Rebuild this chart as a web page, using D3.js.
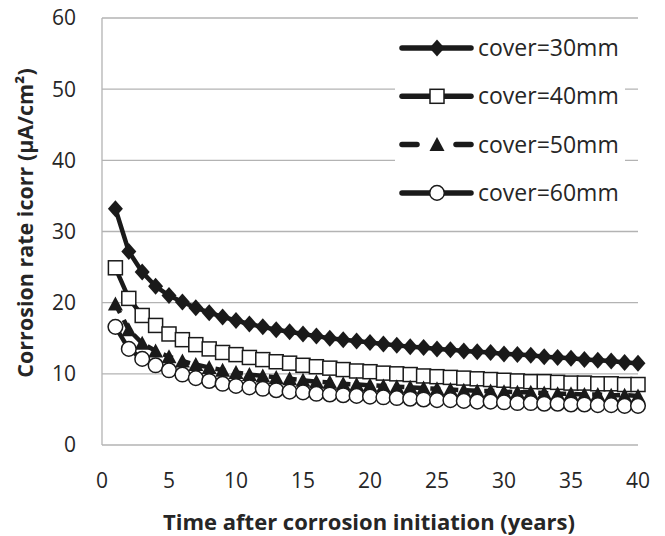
<!DOCTYPE html>
<html>
<head>
<meta charset="utf-8">
<script src="https://cdn.jsdelivr.net/npm/d3@7"></script>
<style>
  body { margin: 0; background: #fff; }
  text { font-family: "Open Sans", sans-serif; fill: #262626; }
</style>
</head>
<body>
<svg width="665" height="536"></svg>
<script>
var width = 665;
var height = 536;
var margin = {left: 102, right: 27, top: 18, bottom: 91};

// data (years 1..40)
var years = d3.range(1, 41);
var cover30 = [33.2,27.2,24.3,22.3,21.0,20.1,19.3,18.6,18.0,17.5,17.0,16.6,16.2,15.9,15.6,15.3,15.0,14.8,14.6,14.4,
               14.2,14.0,13.8,13.7,13.5,13.4,13.2,13.1,13.0,12.8,12.7,12.6,12.4,12.3,12.2,12.0,11.9,11.8,11.6,11.5];
var cover40 = [24.9,20.6,18.2,16.8,15.6,14.8,14.1,13.5,13.0,12.7,12.3,12.0,11.7,11.5,11.2,11.0,10.8,10.6,10.4,10.3,
               10.1,10.0,9.9,9.7,9.6,9.5,9.4,9.3,9.2,9.1,9.0,8.9,8.9,8.8,8.7,8.7,8.6,8.6,8.5,8.5];
var cover50 = [19.8,16.2,14.3,13.2,12.4,11.8,11.3,10.9,10.5,10.2,9.9,9.7,9.5,9.3,9.1,8.9,8.8,8.6,8.5,8.4,
               8.3,8.2,8.1,8.0,7.9,7.8,7.7,7.6,7.6,7.5,7.4,7.4,7.3,7.2,7.2,7.1,7.1,7.0,7.0,6.9];
var cover60 = [16.6,13.5,12.1,11.2,10.5,9.9,9.4,9.0,8.6,8.3,8.1,7.9,7.7,7.5,7.4,7.2,7.1,7.0,6.9,6.8,
               6.7,6.6,6.5,6.4,6.3,6.3,6.2,6.1,6.1,6.0,5.9,5.9,5.8,5.8,5.7,5.7,5.6,5.6,5.5,5.5];
var xTicks = [0,5,10,15,20,25,30,35,40];
var yTicks = [0,10,20,30,40,50,60];
var seriesNames = ["cover=30mm","cover=40mm","cover=50mm","cover=60mm"];

var series = [
  {name: seriesNames[0], values: cover30, marker: "diamond", dash: null},
  {name: seriesNames[1], values: cover40, marker: "square", dash: null},
  {name: seriesNames[2], values: cover50, marker: "triangle", dash: "10,8"},
  {name: seriesNames[3], values: cover60, marker: "circle", dash: null}
];

var x = d3.scaleLinear().domain([0, 40]).range([margin.left, width - margin.right]);
var y = d3.scaleLinear().domain([0, 60]).range([height - margin.bottom, margin.top]);

var svg = d3.select("svg");

// gridlines
svg.append("g")
  .selectAll("line")
  .data(yTicks)
  .enter()
  .append("line")
  .attr("x1", x(0))
  .attr("x2", x(40))
  .attr("y1", function(d) { return y(d); })
  .attr("y2", function(d) { return y(d); })
  .attr("stroke", "#b3b3b3")
  .attr("stroke-width", 1.3);

// left axis line
svg.append("line")
  .attr("x1", x(0)).attr("x2", x(0))
  .attr("y1", y(0)).attr("y2", y(60))
  .attr("stroke", "#b3b3b3")
  .attr("stroke-width", 1.3);

// tick labels
svg.append("g")
  .selectAll("text")
  .data(yTicks)
  .enter()
  .append("text")
  .attr("x", x(0) - 26)
  .attr("y", function(d) { return y(d); })
  .attr("dy", "0.35em")
  .attr("text-anchor", "end")
  .style("font-size", "21px")
  .text(function(d) { return d; });

svg.append("g")
  .selectAll("text")
  .data(xTicks)
  .enter()
  .append("text")
  .attr("x", function(d) { return x(d); })
  .attr("y", 488)
  .attr("text-anchor", "middle")
  .style("font-size", "21px")
  .text(function(d) { return d; });

// axis titles
svg.append("text")
  .attr("x", 369)
  .attr("y", 530)
  .attr("text-anchor", "middle")
  .style("font-size", "22px")
  .style("font-weight", "bold")
  .text("Time after corrosion initiation (years)");

svg.append("text")
  .attr("transform", "translate(33,223) rotate(-90)")
  .attr("text-anchor", "middle")
  .style("font-size", "21.5px")
  .style("font-weight", "bold")
  .text("Corrosion rate icorr (\u03bcA/cm\u00b2)");

// marker shapes
function drawMarker(g, type) {
  if (type === "diamond") {
    g.append("path").attr("d", "M0,-8.5L7.5,0L0,8.5L-7.5,0Z").attr("fill", "#1a1a1a");
  } else if (type === "square") {
    g.append("rect").attr("x", -7).attr("y", -7).attr("width", 14).attr("height", 14)
      .attr("fill", "#fff").attr("stroke", "#1a1a1a").attr("stroke-width", 1.5);
  } else if (type === "triangle") {
    g.append("path").attr("d", "M0,-7.5L7.5,6.5L-7.5,6.5Z").attr("fill", "#1a1a1a");
  } else {
    g.append("circle").attr("r", 7.3)
      .attr("fill", "#fff").attr("stroke", "#1a1a1a").attr("stroke-width", 1.5);
  }
}

var line = d3.line()
  .x(function(d, i) { return x(years[i]); })
  .y(function(d) { return y(d); });

series.forEach(function(s) {
  var g = svg.append("g");
  g.append("path")
    .attr("d", line(s.values))
    .attr("fill", "none")
    .attr("stroke", "#1a1a1a")
    .attr("stroke-width", 4.5)
    .attr("stroke-dasharray", s.dash);
  g.selectAll("g.pt")
    .data(s.values)
    .enter()
    .append("g")
    .attr("class", "pt")
    .attr("transform", function(d, i) { return "translate(" + x(years[i]) + "," + y(d) + ")"; })
    .each(function() { drawMarker(d3.select(this), s.marker); });
});

// legend
var legend = svg.append("g");
legend.append("rect")
  .attr("x", 395).attr("y", 28).attr("width", 230).attr("height", 190)
  .attr("fill", "#fff");

series.forEach(function(s, i) {
  var ly = 48 + i * 48.3;
  if (s.dash) {
    legend.append("line")
      .attr("x1", 402).attr("x2", 417).attr("y1", ly).attr("y2", ly)
      .attr("stroke", "#1a1a1a").attr("stroke-width", 5.5).attr("stroke-linecap", "round");
    legend.append("line")
      .attr("x1", 456).attr("x2", 471).attr("y1", ly).attr("y2", ly)
      .attr("stroke", "#1a1a1a").attr("stroke-width", 5.5).attr("stroke-linecap", "round");
  } else {
    legend.append("line")
      .attr("x1", 402).attr("x2", 471)
      .attr("y1", ly).attr("y2", ly)
      .attr("stroke", "#1a1a1a")
      .attr("stroke-width", 5.5)
      .attr("stroke-linecap", "round");
  }
  var mg = legend.append("g").attr("transform", "translate(437," + ly + ")");
  drawMarker(mg, s.marker);
  legend.append("text")
    .attr("x", 478)
    .attr("y", ly)
    .attr("dy", "0.35em")
    .style("font-size", "23px")
    .text(s.name);
});
</script>
</body>
</html>
